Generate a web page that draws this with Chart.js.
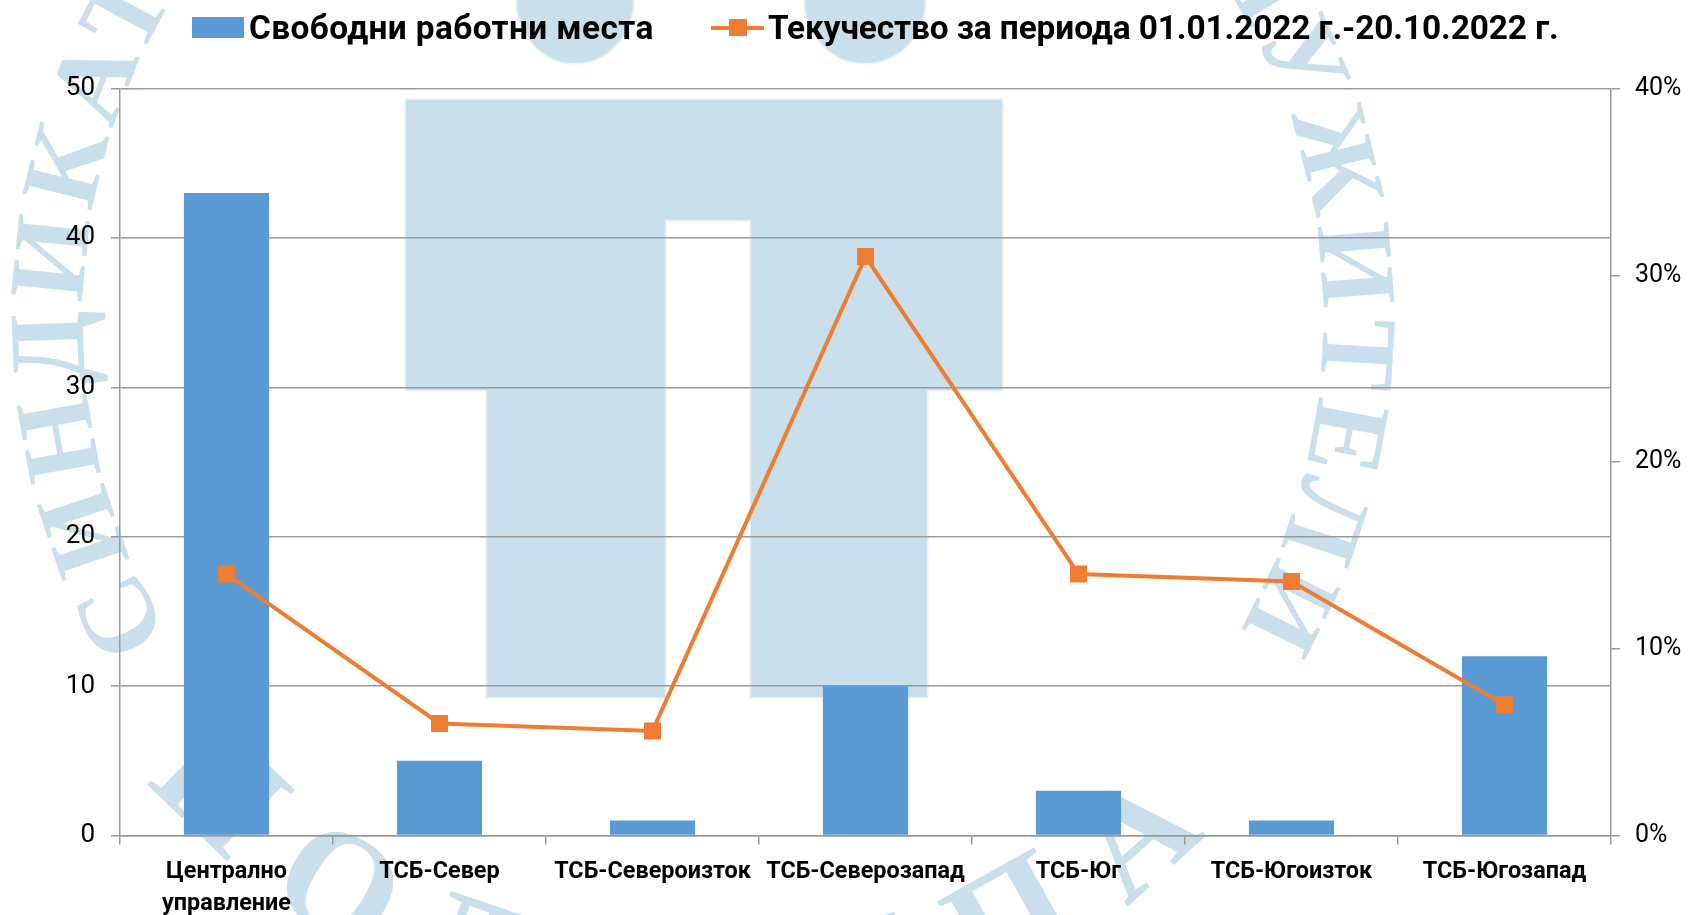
<!DOCTYPE html>
<html>
<head>
<meta charset="utf-8">
<title>Свободни работни места и текучество</title>
<script src="https://cdn.jsdelivr.net/npm/chart.js@4"></script>
<style>
    html, body { margin: 0; padding: 0; background: #fff; }
    #page { position: relative; width: 1688px; height: 915px; overflow: hidden; }
    #watermark, #chart, #legend { position: absolute; left: 0; top: 0; }
    #legend { width: 1688px; height: 60px; font: bold 33.4px Roboto, sans-serif; color: #000; }
    #legend span { position: absolute; top: 8px; line-height: 40px; white-space: nowrap; }
    #legend i { position: absolute; display: block; }
</style>
</head>
<body>
<div id="page">
    <svg id="watermark" width="1688" height="915" viewBox="0 0 1688 915">
        <defs>
            <path id="outerArc" d="M 158 615 A 620 620 0 1 1 1248 615"></path>
            <path id="innerArc" d="M -17 320 A 720 720 0 0 0 1423 320"></path>
        </defs>
        <g fill="#cadfec" stroke="#e6f0f6" stroke-width="3" paint-order="stroke">
            <ellipse cx="575" cy="0" rx="58" ry="63"></ellipse>
            <ellipse cx="865" cy="0" rx="60" ry="63"></ellipse>
            <path d="M406 100 H1002 V390 H927 V697 H751 V220 H665 V697 H487 V390 H406 Z"></path>
        </g>
        <g fill="#cadfec" font-family="Liberation Serif" font-weight="bold">
            <text font-size="108" text-anchor="middle" letter-spacing="7">
                <textPath href="#outerArc" startOffset="50%">СИНДИКАТ НА ДЪРЖАВНИТЕ СЛУЖИТЕЛИ</textPath>
            </text>
            <text font-size="150" text-anchor="middle" letter-spacing="48">
                <textPath href="#innerArc" startOffset="49.4%">ПОДКРЕПА</textPath>
            </text>
        </g>
    </svg>
    <canvas id="chart" width="1688" height="915"></canvas>
    <div id="legend"></div>
</div>
<script>
const categories = [
    ['Централно', 'управление'],
    'ТСБ-Север',
    'ТСБ-Североизток',
    'ТСБ-Северозапад',
    'ТСБ-Юг',
    'ТСБ-Югоизток',
    'ТСБ-Югозапад',
];
const vacancyLabel = 'Свободни работни места';
const turnoverLabel = 'Текучество за периода 01.01.2022 г.-20.10.2022 г.';
const vacancies = [43, 5, 1, 10, 3, 1, 12];
const turnover = [0.14, 0.06, 0.056, 0.31, 0.14, 0.136, 0.07];

const barColor = '#5B9BD5';
const lineColor = '#ED7D31';
const axisColor = '#999999';

document.getElementById('legend').innerHTML =
    '<i style="left:192px;top:17px;width:52px;height:21px;background:' + barColor + '"></i>' +
    '<span style="left:249px;letter-spacing:0.4px">' + vacancyLabel + '</span>' +
    '<i style="left:711px;top:26px;width:53px;height:4px;background:' + lineColor + '"></i>' +
    '<i style="left:729px;top:19px;width:18px;height:17px;background:' + lineColor + '"></i>' +
    '<span style="left:768px;letter-spacing:-0.09px">' + turnoverLabel + '</span>';

new Chart(document.getElementById('chart').getContext('2d'), {
    type: 'bar',
    data: {
        labels: categories,
        datasets: [
            {
                type: 'line',
                label: turnoverLabel,
                data: turnover,
                yAxisID: 'y1',
                order: 1,
                borderColor: lineColor,
                backgroundColor: lineColor,
                borderWidth: 4,
                pointStyle: 'rect',
                pointRadius: 12,
                pointBorderWidth: 0,
                pointHoverRadius: 12,
                tension: 0,
            },
            {
                label: vacancyLabel,
                data: vacancies,
                yAxisID: 'y',
                order: 2,
                backgroundColor: barColor,
                categoryPercentage: 0.4,
                barPercentage: 1,
            },
        ],
    },
    options: {
        responsive: false,
        animation: false,
        layout: { padding: { top: 88.5 } },
        plugins: {
            legend: { display: false },
            tooltip: { enabled: false },
        },
        scales: {
            x: {
                afterFit: (scale) => { scale.height = 79.5; },
                grid: {
                    drawOnChartArea: false,
                    color: axisColor,
                    lineWidth: 1.5,
                    tickLength: 9,
                },
                border: { color: axisColor, width: 1.5 },
                ticks: {
                    color: '#000',
                    padding: 11,
                    maxRotation: 0,
                    autoSkip: false,
                    font: { family: 'Roboto', size: 23.4, weight: 'bold', lineHeight: 1.4 },
                },
            },
            y: {
                position: 'left',
                min: 0,
                max: 50,
                afterFit: (scale) => { scale.width = 120; },
                grid: { color: axisColor, lineWidth: 1.5, tickLength: 9 },
                border: { color: axisColor, width: 1.5 },
                ticks: {
                    stepSize: 10,
                    color: '#000',
                    padding: 16,
                    font: { family: 'Roboto', size: 26 },
                },
            },
            y1: {
                position: 'right',
                min: 0,
                max: 0.4,
                afterFit: (scale) => { scale.width = 77; },
                grid: { drawOnChartArea: false, color: axisColor, lineWidth: 1.5, tickLength: 9 },
                border: { color: axisColor, width: 1.5 },
                ticks: {
                    stepSize: 0.1,
                    color: '#000',
                    padding: 15,
                    font: { family: 'Roboto', size: 25 },
                    callback: (value) => Math.round(value * 100) + '%',
                },
            },
        },
    },
});
</script>
</body>
</html>
